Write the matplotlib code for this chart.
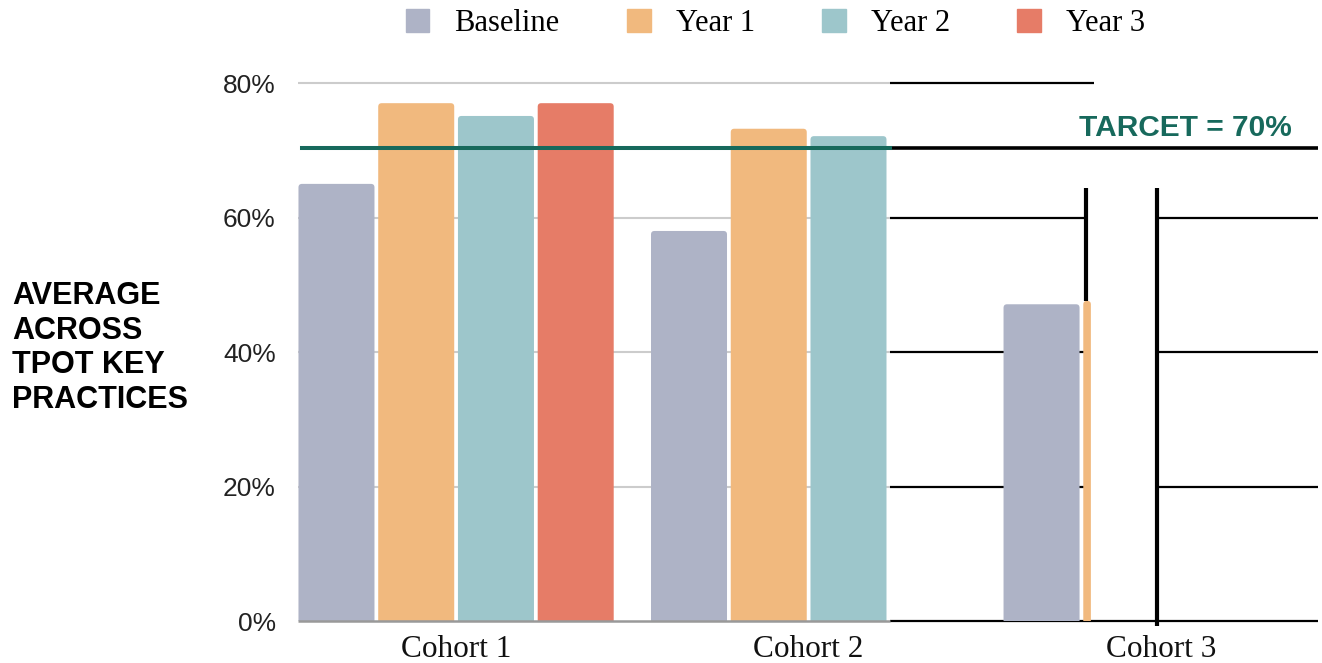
import matplotlib
matplotlib.use('Agg')
import matplotlib.pyplot as plt
import numpy as np
from matplotlib.patches import Patch, FancyBboxPatch

cohorts = ['Cohort 1', 'Cohort 2', 'Cohort 3']
series = ['Baseline', 'Year 1', 'Year 2', 'Year 3']
baseline = [65, 58, 47.1]
year1 = [77, 73.2, 47.6]
year2 = [75.1, 72.1, np.nan]
year3 = [77, np.nan, np.nan]
colors = ['#aeb3c6', '#f1b97e', '#9dc6cb', '#e67c67']
target = 70
target_line = 70.4   # where the target line sits in the picture
yticks = [0, 20, 40, 60, 80]
teal = '#17695c'

fig = plt.figure(figsize=(13.22, 6.63), dpi=100)
ax = fig.add_axes([0.2254, 0.0633, 0.7716, 0.8115])

xmin, xmax = -0.4485, 2.445
ymin, ymax = 0, 80
ax.set_xlim(xmin, xmax)
ax.set_ylim(ymin, ymax)

slot = 0.2262
bar_w = 0.2156
x = np.arange(len(cohorts))
# in the source only a thin sliver of Cohort 3 / Year 1 is left visible
sliver = {(2, 1): 0.1}

# pixel scale of the axes, used to get round corners of equal size in x and y
px_x = fig.get_figwidth() * fig.dpi * 0.7716 / (xmax - xmin)
px_y = fig.get_figheight() * fig.dpi * 0.8115 / (ymax - ymin)
r_x = 3.5 / px_x
r_y = 3.5 / px_y

for i, (vals, c) in enumerate(zip([baseline, year1, year2, year3], colors)):
    left = x + (i - 1.5) * slot - bar_w / 2
    widths = [bar_w * sliver.get((g, i), 1.0) for g in range(len(cohorts))]
    bars = ax.bar(left, vals, width=widths, align='edge', color=c, zorder=2, linewidth=0)
    for b in bars:
        if b.get_width() < 2 * r_x or not np.isfinite(b.get_height()):
            continue
        b.set_visible(False)
        ax.add_patch(FancyBboxPatch((b.get_x(), -r_y), b.get_width(), b.get_height() + r_y,
                                    boxstyle=f'round,pad=0,rounding_size={r_x}',
                                    mutation_aspect=px_x / px_y, color=c, lw=0, zorder=2))

right_start = 1 + 0.5 * slot + bar_w / 2 + 0.009
c3_left = 2 - 0.5 * slot - bar_w / 2
vline1 = c3_left + 0.008
vline2 = 2 - 0.012
top_v = 64.4

# light grid on the left part
ax.hlines([20, 40, 60, 80], xmin, right_start, color='#cccccc', lw=1.5, zorder=0, clip_on=False)
ax.hlines(0, xmin, right_start, color='#999999', lw=1.8, zorder=3, clip_on=False)

# black redrawn lines on the right part
ax.hlines(80, right_start, vline1 + 0.022, color='black', lw=1.6, zorder=1, clip_on=False)
ax.hlines([20, 40, 60], right_start, vline1, color='black', lw=1.6, zorder=1)
ax.hlines([20, 40, 60], vline2, xmax, color='black', lw=1.6, zorder=1)
ax.hlines(0, right_start, xmax, color='black', lw=1.6, zorder=1, clip_on=False)
ax.hlines(target_line, right_start, xmax, color='black', lw=2.6, zorder=3)
ax.vlines(vline1, year1[2], top_v, color='black', lw=3, zorder=3)
ax.vlines(vline2, -0.8, top_v, color='black', lw=3, zorder=3, clip_on=False)

# target line
ax.plot([xmin + 0.011, right_start], [target_line, target_line], color=teal, lw=2.9, zorder=4)
ax.text(2.068, 73.3, f'TARCET = {target}%', color=teal, fontsize=21.5, fontweight='bold',
        family='Liberation Sans', ha='center', va='center')

ax.set_yticks(yticks)
ax.set_yticklabels([f'{v}%' for v in yticks], fontsize=19, family='Liberation Sans', color='#222222')
ax.set_xticks(x)
ax.set_xticklabels(cohorts, fontsize=22.5, family='Liberation Serif', color='#111111')
ax.tick_params(axis='y', length=0, pad=16)
ax.tick_params(axis='x', length=0, pad=10)
for s in ax.spines.values():
    s.set_visible(False)

fig.text(0.0091, 0.475, 'AVERAGE\nACROSS\nTPOT KEY\nPRACTICES', ha='left', va='center',
         fontsize=22, fontweight='bold', family='Liberation Sans', color='black')

handles = [Patch(color=c, label=s) for s, c in zip(series, colors)]
fig.legend(handles=handles, loc='center', bbox_to_anchor=(0.5866, 0.965), ncol=4, frameon=False,
           prop={'family': 'Liberation Serif', 'size': 22}, handlelength=0.78, handleheight=0.8,
           handletextpad=0.82, columnspacing=2.2, borderpad=0, borderaxespad=0)

fig.savefig('out.png', dpi=100)
